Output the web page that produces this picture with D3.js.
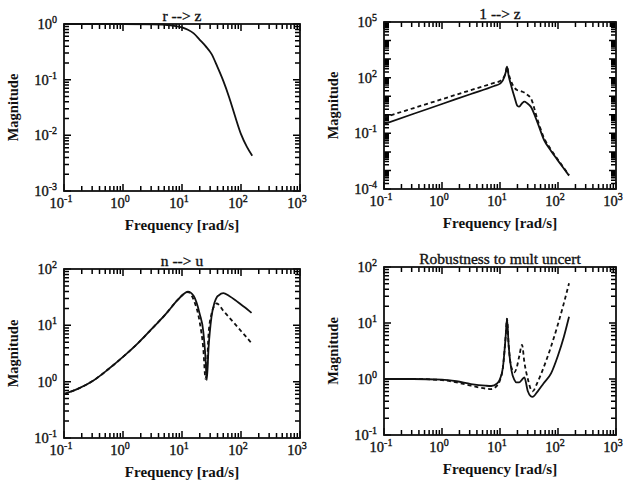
<!DOCTYPE html>
<html><head><meta charset="utf-8">
<script src="https://cdn.jsdelivr.net/npm/d3@7/dist/d3.min.js"></script>
<style>
body{margin:0;background:#fff}
svg{display:block}
text{font-family:"Liberation Serif","Times New Roman",serif;fill:#111}
.thick{stroke:#111;stroke-width:0.35px}
</style>
</head><body>
<svg id="chart" width="623" height="482"></svg>
<script>
// ---------- DATA ----------
const xTickExps = [-1, 0, 1, 2, 3];

// Panel 1: r --> z
const rzTitle = "r --> z";
const rzFreq = [0.1, 0.316, 1, 3.16, 6.31, 10, 12.6, 15.8, 20, 25.1, 31.6, 39.8, 50.1, 63.1, 79.4, 100, 126, 155];
const rzMag  = [1, 1, 1, 0.99, 0.95, 0.87, 0.79, 0.68, 0.52, 0.40, 0.29, 0.17, 0.095, 0.048, 0.022, 0.0105, 0.0062, 0.0043];
const rzYExps = [-3, -2, -1, 0];

// Panel 2: 1 --> z
const lzTitle = "1 --> z";
const lzFreq   = [0.1, 0.316, 1, 3.16, 7.94, 10, 11.2, 12.6, 13.2, 14.1, 15.8, 17.8, 20, 21.4, 24, 26.3, 29.5, 33.9, 44.7, 57.5, 75.9, 100, 126, 155];
const lzSolid  = [0.316, 1.10, 3.80, 13.2, 35.5, 47.9, 70.8, 200, 389, 126, 31.6, 8.91, 3.02, 2.75, 4.17, 5.13, 4.17, 2.75, 0.355, 0.0437, 0.0112, 0.00339, 0.00126, 0.000525];
const lzDashed = [0.724, 2.24, 6.92, 21.4, 52.5, 66.1, 89.1, 200, 389, 158, 56.2, 28.2, 20.9, 20.0, 17.8, 15.8, 12.0, 7.94, 0.501, 0.0562, 0.0132, 0.0038, 0.00138, 0.000562];
const lzYExps = [-4, -1, 2, 5];

// Panel 3: n --> u
const nuTitle = "n --> u";
const nuFreq   = [0.1, 0.178, 0.316, 0.562, 1, 1.78, 3.16, 5.62, 7.94, 10, 12.6, 15.8, 20, 22.9, 25.1, 26.3, 28.2, 31.6, 35.5, 38.9, 41.7, 50.1, 63.1, 79.4, 100, 126, 151];
const nuSolid  = [0.603, 0.759, 1.05, 1.66, 2.75, 4.79, 8.91, 17.0, 26.3, 33.9, 39.8, 33.1, 15.8, 7.94, 2.51, 1.07, 3.98, 14.1, 25.1, 31.6, 33.9, 37.2, 33.1, 28.2, 23.4, 19.5, 16.6];
const nuDashed = [0.603, 0.759, 1.05, 1.66, 2.75, 4.79, 8.91, 17.0, 26.3, 33.9, 38.9, 28.2, 11.2, 3.98, 1.12, 1.58, 7.08, 15.8, 22.4, 24.5, 23.4, 18.2, 13.8, 10.5, 7.94, 6.03, 4.79];
const nuYExps = [-1, 0, 1, 2];

// Panel 4: Robustness to mult uncert
const rbTitle = "Robustness to mult uncert";
const rbFreq   = [0.1, 0.316, 1, 1.78, 3.16, 5.62, 7.08, 8.91, 10, 11.2, 12.6, 13.2, 14.1, 15.8, 17.8, 19.1, 21.4, 24, 26.3, 30.2, 33.9, 36.3, 44.7, 56.2, 75.9, 100, 126, 155];
const rbSolid  = [1, 1, 0.977, 0.912, 0.813, 0.759, 0.750, 0.832, 1.0, 1.58, 6.31, 12.0, 3.98, 1.41, 0.955, 0.871, 0.871, 0.977, 1.07, 0.603, 0.490, 0.479, 0.603, 0.832, 1.26, 2.63, 5.62, 12.9];
const rbDashed = [1, 1, 0.955, 0.871, 0.759, 0.676, 0.661, 0.759, 0.955, 1.58, 6.31, 12.0, 3.98, 1.58, 1.32, 1.51, 2.51, 4.07, 2.0, 1.0, 0.661, 0.603, 0.891, 1.58, 3.80, 9.55, 22.4, 51.3];
const rbYExps = [-1, 0, 1, 2];

const xLabel = "Frequency [rad/s]";
const yLabel = "Magnitude";

// ---------- DRAW ----------
const svg = d3.select("#chart");

function drawPanel(opt) {
  const [x0, y0, x1, y1] = opt.box;
  const x = d3.scaleLog().domain([0.1, 1000]).range([x0, x1]);
  const y = d3.scaleLog().domain([Math.pow(10, opt.yExps[0]), Math.pow(10, opt.yExps[opt.yExps.length - 1])]).range([y1, y0]);
  const g = svg.append("g");

  function decadeTicks(lo, hi) {
    const out = [];
    for (let e = lo; e <= hi; e++) {
      out.push({v: Math.pow(10, e), L: 7});
      if (e < hi) for (let m = 2; m <= 9; m++) out.push({v: m * Math.pow(10, e), L: 5});
    }
    return out;
  }
  const xt = decadeTicks(-1, 3);
  const yt = decadeTicks(opt.yExps[0], opt.yExps[opt.yExps.length - 1]);
  let tickPath = "";
  xt.forEach(t => {
    const px = x(t.v);
    tickPath += `M${px},${y1}V${y1 - t.L}M${px},${y0}V${y0 + t.L}`;
  });
  yt.forEach(t => {
    const py = y(t.v);
    tickPath += `M${x0},${py}H${x0 + t.L}M${x1},${py}H${x1 - t.L}`;
  });
  g.append("path").attr("d", tickPath).attr("fill", "none")
    .attr("stroke", "#000").attr("stroke-width", 1.5);

  const line = d3.line().x(d => x(d[0])).y(d => y(d[1])).curve(d3.curveMonotoneX);
  opt.series.forEach(s => {
    g.append("path")
      .attr("d", line(opt.freq.map((f, i) => [f, s.vals[i]])))
      .attr("fill", "none").attr("stroke", "#111")
      .attr("stroke-width", 1.8)
      .attr("stroke-dasharray", s.dash ? "4,3" : null);
  });

  g.append("rect").attr("x", x0).attr("y", y0).attr("width", x1 - x0).attr("height", y1 - y0)
    .attr("fill", "none").attr("stroke", "#111").attr("stroke-width", 1.8);

  // x tick labels
  xTickExps.forEach(e => {
    const t = g.append("text").attr("class", "thick").attr("x", x(Math.pow(10, e)) - 3).attr("y", y1 + 17)
      .attr("text-anchor", "middle").attr("font-size", 14.5);
    t.append("tspan").text("10");
    t.append("tspan").attr("dy", -6).attr("font-size", 10).text(e < 0 ? "-" + (-e) : e);
  });
  // y tick labels
  opt.yExps.forEach(e => {
    const t = g.append("text").attr("class", "thick").attr("x", x0 - 7).attr("y", y(Math.pow(10, e)) + 5)
      .attr("text-anchor", "end").attr("font-size", 14.5);
    t.append("tspan").text("10");
    t.append("tspan").attr("dy", -6).attr("font-size", 10).text(e < 0 ? "-" + (-e) : e);
  });

  g.append("text").attr("class", "thick").attr("x", (x0 + x1) / 2).attr("y", y0 - 3)
    .attr("text-anchor", "middle").attr("font-size", 15.5).text(opt.title);
  g.append("text").attr("x", (x0 + x1) / 2).attr("y", y1 + 39)
    .attr("text-anchor", "middle").attr("font-size", 15).attr("font-weight", "bold").text(xLabel);
  g.append("text").attr("transform", `translate(${x0 - 46},${(y0 + y1) / 2}) rotate(-90)`)
    .attr("text-anchor", "middle").attr("font-size", 14.5).attr("font-weight", "bold").text(yLabel);
}

drawPanel({box: [64, 24, 300, 191], title: rzTitle, freq: rzFreq, yExps: rzYExps,
  series: [{vals: rzMag, dash: false}]});
drawPanel({box: [384, 22, 616, 189], title: lzTitle, freq: lzFreq, yExps: lzYExps,
  series: [{vals: lzSolid, dash: false}, {vals: lzDashed, dash: true}]});
drawPanel({box: [64, 269, 300, 438], title: nuTitle, freq: nuFreq, yExps: nuYExps,
  series: [{vals: nuSolid, dash: false}, {vals: nuDashed, dash: true}]});
drawPanel({box: [384, 267, 616, 435], title: rbTitle, freq: rbFreq, yExps: rbYExps,
  series: [{vals: rbSolid, dash: false}, {vals: rbDashed, dash: true}]});
</script>
</body></html>
